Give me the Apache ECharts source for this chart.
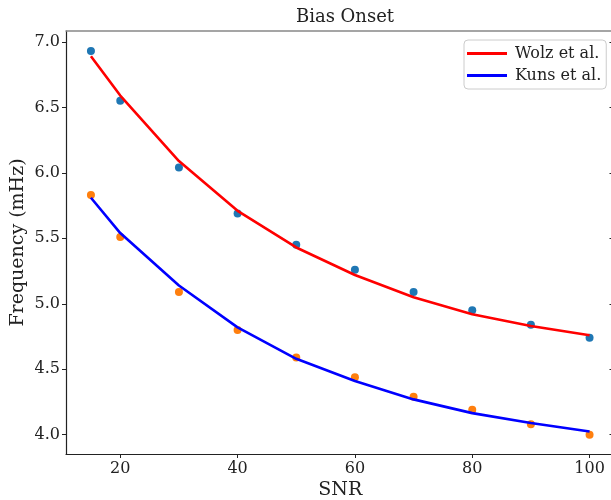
<!DOCTYPE html>
<html><head><meta charset="utf-8">
<script src="https://cdn.jsdelivr.net/npm/echarts@6/dist/echarts.min.js"></script>
<style>html,body{margin:0;padding:0;background:#fff}#c{width:611px;height:500px}</style>
</head><body><div id="c"></div>
<script>
const titleText = 'Bias Onset';
const xName = 'SNR';
const yName = 'Frequency (mHz)';
const snr = [15, 20, 30, 40, 50, 60, 70, 80, 90, 100];
const wolzPoints = [6.93, 6.55, 6.04, 5.69, 5.45, 5.26, 5.09, 4.95, 4.84, 4.74];
const kunsPoints = [5.83, 5.51, 5.09, 4.80, 4.59, 4.44, 4.29, 4.19, 4.08, 4.00];
const wolzFit = [6.89, 6.59, 6.09, 5.71, 5.43, 5.22, 5.05, 4.92, 4.83, 4.76];
const kunsFit = [5.81, 5.54, 5.14, 4.82, 4.58, 4.41, 4.27, 4.165, 4.09, 4.025];
const seriesNames = ['Wolz et al.', 'Kuns et al.'];
const xTicks = [20, 40, 60, 80, 100];
const yTicks = [4.0, 4.5, 5.0, 5.5, 6.0, 6.5, 7.0];
const xRange = [10.75, 104.25];
const yRange = [3.853, 7.083];

const FONT = 'DejaVu Serif';
const pairs = (xs, ys) => xs.map((x, i) => [x, ys[i]]);

const chart = echarts.init(document.getElementById('c'), null, {renderer: 'canvas'});
chart.setOption({
  animation: false,
  backgroundColor: '#fff',
  title: {
    text: titleText, left: 340, top: 3, textAlign: 'center',
    textStyle: {fontFamily: FONT, fontSize: 18, fontWeight: 'normal', color: '#222'}
  },
  grid: {left: 66, right: -3.5, top: 31, bottom: 46, containLabel: false, outerBoundsMode: 'none'},
  legend: {
    orient: 'vertical', left: 464, top: 40,
    padding: [5, 5, 5, 3], itemGap: 5, itemWidth: 40, itemHeight: 3,
    borderColor: '#ccc', borderWidth: 1, borderRadius: 4, backgroundColor: '#fff',
    textStyle: {fontFamily: FONT, fontSize: 16, color: '#222', lineHeight: 17, padding: [0, 0, 0, 3]},
    data: seriesNames.map(n => ({name: n, icon: 'rect'}))
  },
  xAxis: [{
    type: 'value', min: xRange[0], max: xRange[1],
    name: xName, nameLocation: 'middle', nameGap: 27, nameMoveOverlap: false,
    nameTextStyle: {fontFamily: FONT, fontSize: 19, color: '#222'},
    axisLine: {show: true, lineStyle: {color: '#222', width: 1.2}},
    axisTick: {show: true, inside: false, length: 4, customValues: xTicks, lineStyle: {color: '#222'}},
    axisLabel: {customValues: xTicks, margin: 7, fontFamily: FONT, fontSize: 16, color: '#222'},
    splitLine: {show: false}
  }, {
    type: 'value', position: 'top', min: xRange[0], max: xRange[1],
    axisLine: {show: true, lineStyle: {color: '#888', width: 1.5}},
    axisTick: {show: false}, axisLabel: {show: false}, splitLine: {show: false}
  }],
  yAxis: [{
    type: 'value', min: yRange[0], max: yRange[1],
    name: yName, nameLocation: 'middle', nameGap: 38, nameMoveOverlap: false,
    nameTextStyle: {fontFamily: FONT, fontSize: 19, color: '#222'},
    axisLine: {show: true, lineStyle: {color: '#222', width: 1.2}},
    axisTick: {show: true, inside: false, length: 4, customValues: yTicks, lineStyle: {color: '#222'}},
    axisLabel: {customValues: yTicks, margin: 6, fontFamily: FONT, fontSize: 16, color: '#222',
      formatter: v => v.toFixed(1)},
    splitLine: {show: false}
  }, {
    type: 'value', position: 'right', min: yRange[0], max: yRange[1],
    axisLine: {show: true, lineStyle: {color: '#222', width: 1.2}},
    axisTick: {show: true, inside: true, length: 5, customValues: yTicks, lineStyle: {color: '#222'}},
    axisLabel: {show: false}, splitLine: {show: false}
  }],
  series: [
    {type: 'scatter', name: 'wolzPts', data: pairs(snr, wolzPoints), symbolSize: 8,
      itemStyle: {color: '#1f77b4', opacity: 1}, z: 2},
    {type: 'scatter', name: 'kunsPts', data: pairs(snr, kunsPoints), symbolSize: 8,
      itemStyle: {color: '#ff7f0e', opacity: 1}, z: 2},
    {type: 'line', name: seriesNames[0], data: pairs(snr, wolzFit), symbol: 'none',
      lineStyle: {color: '#ff0000', width: 2.6}, itemStyle: {color: '#ff0000'}, z: 3},
    {type: 'line', name: seriesNames[1], data: pairs(snr, kunsFit), symbol: 'none',
      lineStyle: {color: '#0000ff', width: 2.6}, itemStyle: {color: '#0000ff'}, z: 3}
  ]
});
</script>
</body></html>
